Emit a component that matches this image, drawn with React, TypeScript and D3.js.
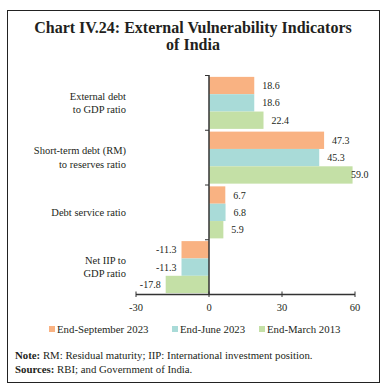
import React from "react";
import * as d3 from "d3";

const categories = [
  ["External debt", "to GDP ratio"],
  ["Short-term debt (RM)", "to reserves ratio"],
  ["Debt service ratio"],
  ["Net IIP to", "GDP ratio"],
];
const seriesNames = ["End-September 2023", "End-June 2023", "End-March 2013"];
const sep2023 = [18.6, 47.3, 6.7, -11.3];
const jun2023 = [18.6, 45.3, 6.8, -11.3];
const mar2013 = [22.4, 59.0, 5.9, -17.8];
const xTicks = [-30, 0, 30, 60];
const colors = ["#F9B282", "#A9DBD8", "#C4E0A6"];

const W = 386;
const H = 391;
const FONT = "'Liberation Serif', 'DejaVu Serif', serif";

export default function App() {
  const series = [sep2023, jun2023, mar2013];
  const x = d3.scaleLinear().domain([-30, 60]).range([136, 355]);
  const y = d3
    .scaleBand<number>()
    .domain(d3.range(categories.length))
    .range([75.5, 294.5])
    .paddingInner(0.05)
    .paddingOuter(0.025);
  const yInner = d3
    .scaleBand<number>()
    .domain(d3.range(series.length))
    .range([0, y.bandwidth()]);
  const bandEdges = d3.range(categories.length + 1).map((i) => 75.5 + (i * (294.5 - 75.5)) / categories.length);

  return (
    <svg
      width={W}
      height={H}
      style={{ position: "absolute", left: 0, top: 0, background: "#fff" }}
      fontFamily={FONT}
    >
      <rect x={7.5} y={10.5} width={372} height={372} fill="none" stroke="#222" strokeWidth={1} />
      <text x={193} y={33} textAnchor="middle" fontSize={16} fontWeight="bold" fill="#231f20">
        Chart IV.24: External Vulnerability Indicators
      </text>
      <text x={193} y={50} textAnchor="middle" fontSize={16} fontWeight="bold" fill="#231f20">
        of India
      </text>

      {series.map((vals, si) =>
        vals.map((v, ci) => {
          const y0 = (y(ci) as number) + (yInner(si) as number);
          const x0 = x(Math.min(0, v));
          const x1 = x(Math.max(0, v));
          const label = v.toFixed(1);
          let lx = v >= 0 ? x1 + 8 : x0 - 5;
          if (v >= 0 && lx + 17 > 368) lx = 368 - 17;
          return (
            <g key={`${si}-${ci}`}>
              <rect x={x0} y={y0} width={x1 - x0} height={yInner.bandwidth()} fill={colors[si]} />
              <text
                x={lx}
                y={y0 + yInner.bandwidth() / 2 + 3.5}
                fontSize={10}
                textAnchor={v >= 0 ? "start" : "end"}
                fill="#231f20"
              >
                {label}
              </text>
            </g>
          );
        })
      )}

      {categories.map((lines, ci) => {
        const cy = (y(ci) as number) + y.bandwidth() / 2;
        const lh = 13.5;
        const start = cy - ((lines.length - 1) * lh) / 2;
        return (
          <text key={ci} textAnchor="end" fontSize={10.5} fill="#231f20">
            {lines.map((l, li) => (
              <tspan key={li} x={126} y={start + li * lh + 3.5}>
                {l}
              </tspan>
            ))}
          </text>
        );
      })}

      {/* y axis */}
      <line x1={x(0)} x2={x(0)} y1={75} y2={295} stroke="#333" strokeWidth={1.5} />
      {bandEdges.slice(0, -1).map((e, i) => (
        <line key={i} x1={x(0) - 4} x2={x(0)} y1={e} y2={e} stroke="#333" strokeWidth={1} />
      ))}
      {/* x axis */}
      <line x1={x(-30)} x2={x(60)} y1={294.5} y2={294.5} stroke="#333" strokeWidth={1.5} />
      {xTicks.map((t) => (
        <g key={t}>
          <line x1={x(t)} x2={x(t)} y1={291.5} y2={297} stroke="#333" strokeWidth={1} />
          <text x={x(t)} y={311} textAnchor="middle" fontSize={10.5} fill="#231f20">
            {t}
          </text>
        </g>
      ))}

      {/* legend */}
      {seriesNames.map((n, i) => {
        const lx = [49, 172, 259][i];
        return (
          <g key={n}>
            <rect x={lx} y={326} width={6} height={6} fill={colors[i]} />
            <text x={lx + 8} y={333} fontSize={10.8} fill="#231f20">
              {n}
            </text>
          </g>
        );
      })}

      <text x={15} y={359} fontSize={10.8} fill="#231f20">
        <tspan fontWeight="bold">Note:</tspan> RM: Residual maturity; IIP: International investment position.
      </text>
      <text x={15} y={372.5} fontSize={10.8} fill="#231f20">
        <tspan fontWeight="bold">Sources:</tspan> RBI; and Government of India.
      </text>
    </svg>
  );
}
